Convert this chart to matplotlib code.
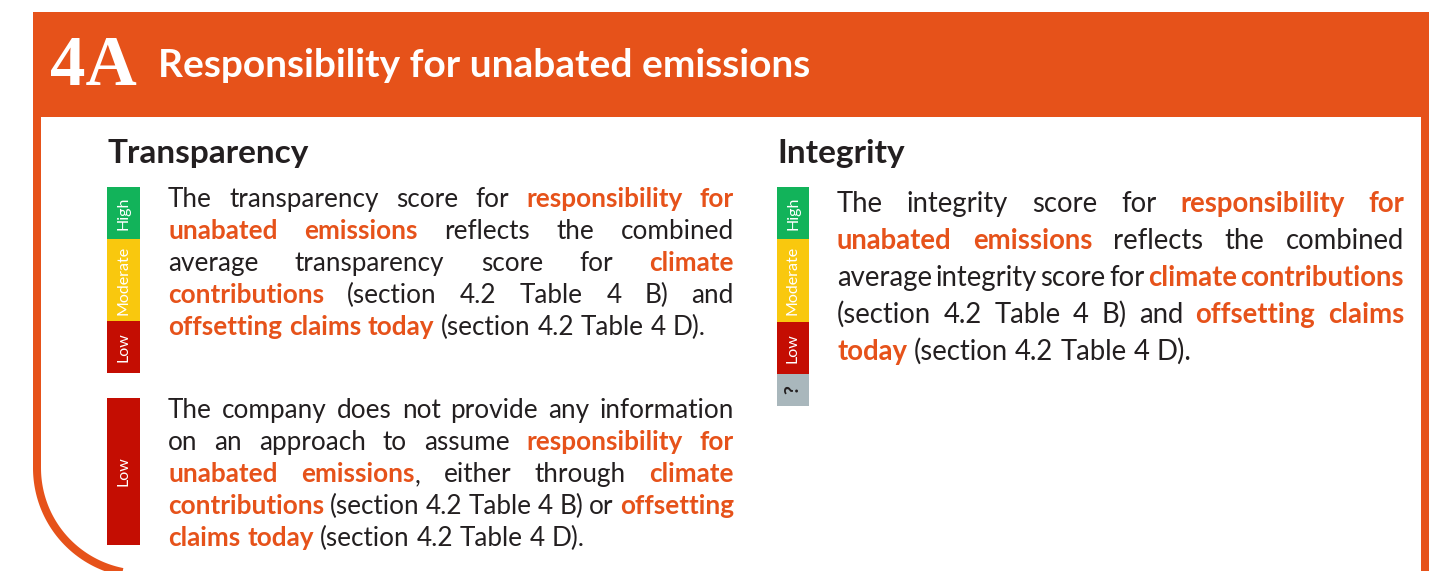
import matplotlib
matplotlib.use("Agg")
import numpy as np
import matplotlib.pyplot as plt
from matplotlib.patches import Rectangle

# 颜色
ORANGE = "#e6521a"
DARK = "#231f20"
BAR_COLORS = {"High": "#12b35a", "Moderate": "#f9c80e", "Low": "#c40d02", "?": "#a9b7bc"}

# 文字資料
header_num = "4A"
header_title = "Responsibility for unabated emissions"
left_heading = "Transparency"
right_heading = "Integrity"

# 評分條: (標籤, 高度px)
transparency_scale = [("High", 52), ("Moderate", 82), ("Low", 52)]
transparency_score = [("Low", 147)]
integrity_scale = [("High", 52), ("Moderate", 83), ("Low", 52), ("?", 32)]

# 段落 (*文字* = 橘色粗體)
para_transparency = [
    "The transparency score for *responsibility* *for*",
    "*unabated* *emissions* reflects the combined",
    "average transparency score for *climate*",
    "*contributions* (section 4.2 Table 4 B) and",
    "*offsetting* *claims* *today* (section 4.2 Table 4 D).",
]
para_low = [
    "The company does not provide any information",
    "on an approach to assume *responsibility* *for*",
    "*unabated* *emissions*, either through *climate*",
    "*contributions* (section 4.2 Table 4 B) or *offsetting*",
    "*claims* *today* (section 4.2 Table 4 D).",
]
para_integrity = [
    "The integrity score for *responsibility* *for*",
    "*unabated* *emissions* reflects the combined",
    "average integrity score for *climate* *contributions*",
    "(section 4.2 Table 4 B) and *offsetting* *claims*",
    "*today* (section 4.2 Table 4 D).",
]

W, H = 1436, 571
fig = plt.figure(figsize=(W / 100, H / 100), dpi=100)
ax = fig.add_axes([0, 0, 1, 1])
ax.set_xlim(0, W)
ax.set_ylim(H, 0)
ax.axis("off")
renderer = fig.canvas.get_renderer()

# 外框 (左下圓角)
lw_pt = 8 * 72 / 100
R = 106
cx, cy = 37 + R, 468
th = np.linspace(0, np.pi / 2, 60)
bx = np.concatenate([[37, 37], cx - R * np.cos(th)])
by = np.concatenate([[12, cy], cy + R * np.sin(th)])
ax.plot(bx, by, color=ORANGE, lw=lw_pt, solid_capstyle="butt")
ax.plot([1425, 1425], [12, 600], color=ORANGE, lw=lw_pt, solid_capstyle="butt")

# 標題橫條
ax.add_patch(Rectangle((33, 12), 1396, 105, facecolor=ORANGE, edgecolor="none"))
ax.text(50, 85, header_num, fontsize=51, family="Liberation Serif", weight="bold",
        color="white", va="baseline")
ax.text(158, 77, header_title, fontsize=28, family="Lato", weight="bold", color="white", va="baseline")

ax.text(107, 163, left_heading, fontsize=24, family="Lato", weight="bold", color=DARK, va="baseline")
ax.text(777, 163, right_heading, fontsize=24, family="Lato", weight="bold", color=DARK, va="baseline")


def draw_bar(x, y, segs, width=33, fs=11.5):
    for label, h in segs:
        ax.add_patch(Rectangle((x, y), width, h, facecolor=BAR_COLORS[label], edgecolor="none"))
        if label == "?":
            ax.text(x + width / 2, y + h / 2, label, rotation=90, ha="center", va="center",
                    fontsize=14, family="Lato", weight="bold", color=DARK)
        else:
            ax.text(x + width / 2, y + h / 2, label, rotation=90, ha="center", va="center",
                    fontsize=fs, family="Lato", color="white")
        y += h


draw_bar(107, 187, transparency_scale)
draw_bar(107, 398, transparency_score)
draw_bar(777, 187, integrity_scale, width=32)


def parse(token):
    parts = token.split("*")
    out = []
    for i, p in enumerate(parts):
        if p:
            out.append((p, i % 2 == 1))
    return out


def word_width(segs, fs):
    w = 0
    for s, bold in segs:
        t = ax.text(0, 0, s, fontsize=fs, family="Lato", weight="bold" if bold else "normal")
        w += t.get_window_extent(renderer).width
        t.remove()
    return w


def draw_para(lines, x_left, x_right, y_base, step, fs):
    space = word_width([("a a", False)], fs) - 2 * word_width([("a", False)], fs)
    for i, line in enumerate(lines):
        words = [parse(tok) for tok in line.split(" ")]
        widths = [word_width(w, fs) for w in words]
        last = i == len(lines) - 1
        if last or len(words) == 1:
            gap = space
        else:
            gap = (x_right - x_left - sum(widths)) / (len(words) - 1)
        x = x_left
        y = y_base + i * step
        for w, ww in zip(words, widths):
            xx = x
            for s, bold in w:
                t = ax.text(xx, y, s, fontsize=fs, family="Lato", va="baseline",
                            weight="bold" if bold else "normal",
                            color=ORANGE if bold else DARK)
                xx += t.get_window_extent(renderer).width
            x += ww + gap


draw_para(para_transparency, 168, 734, 207, 32, 18.8)
draw_para(para_low, 168, 734, 418, 32, 18.8)
draw_para(para_integrity, 837, 1404, 212, 37, 19.8)

fig.savefig("out.png", dpi=100)
